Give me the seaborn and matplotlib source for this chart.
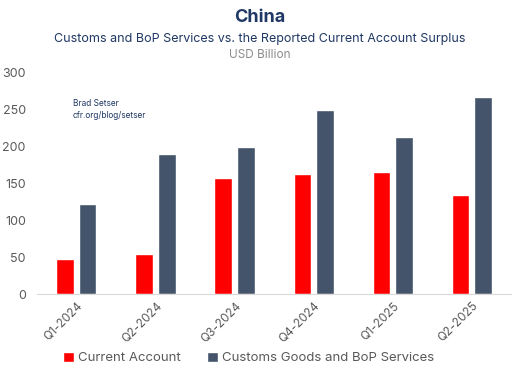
import numpy as np
import pandas as pd
import seaborn as sns
import matplotlib.pyplot as plt

# data (USD billion)
quarters = ['Q1-2024', 'Q2-2024', 'Q3-2024', 'Q4-2024', 'Q1-2025', 'Q2-2025']
current_account = [47, 55, 157, 163, 165, 135]
customs_bop = [122, 190, 200, 250, 213, 267]
series_names = ['Current Account', 'Customs Goods and BoP Services']

df = pd.DataFrame({
    'quarter': quarters * 2,
    'value': current_account + customs_bop,
    'series': [series_names[0]] * len(quarters) + [series_names[1]] * len(quarters),
})

sns.set_style("white")
plt.rcParams['font.family'] = ['Inter', 'DejaVu Sans']

navy = '#1F3864'
grey = '#595959'

fig = plt.figure(figsize=(5.2, 3.78), dpi=100)
ax = fig.add_axes([0.071, 0.222, 0.912, 0.585])

sns.barplot(data=df, x='quarter', y='value', hue='series',
            palette=['#FF0000', '#44546A'], width=0.57, gap=0.22,
            saturation=1, ax=ax, legend=True)

ax.set_ylim(0, 300)
ax.set_xlim(-0.5, 5.5)
ax.set_yticks(np.arange(0, 301, 50))
ax.set_xlabel('')
ax.set_ylabel('')
for s in ['top', 'right', 'left']:
    ax.spines[s].set_visible(False)
ax.spines['bottom'].set_color('#D9D9D9')
ax.tick_params(axis='y', length=0, labelsize=9, labelcolor=grey, pad=8)
ax.tick_params(axis='x', length=0, labelsize=8.5, labelcolor=grey, pad=4)
plt.setp(ax.get_xticklabels(), rotation=45, ha='right', rotation_mode='anchor')

# legend at the bottom
handles, labels = ax.get_legend_handles_labels()
ax.get_legend().remove()
fig.legend(handles, labels, loc='center', bbox_to_anchor=(0.478, 0.053), ncol=2,
           frameon=False, fontsize=9.5, handlelength=0.8, handleheight=0.8,
           handletextpad=0.3, columnspacing=2.0, labelcolor=grey)

# titles
fig.text(0.5, 0.955, 'China', ha='center', va='center', fontsize=13,
         fontweight='bold', color=navy)
fig.text(0.5, 0.897, 'Customs and BoP Services vs. the Reported Current Account Surplus',
         ha='center', va='center', fontsize=9, color=navy)
fig.text(0.5, 0.855, 'USD Billion', ha='center', va='center', fontsize=8.5, color='#8C8C8C')

# source note
fig.text(0.14, 0.71, 'Brad Setser\ncfr.org/blog/setser', ha='left', va='center',
         fontsize=6, color=navy, linespacing=1.5)

fig.savefig('out.png', dpi=100)
